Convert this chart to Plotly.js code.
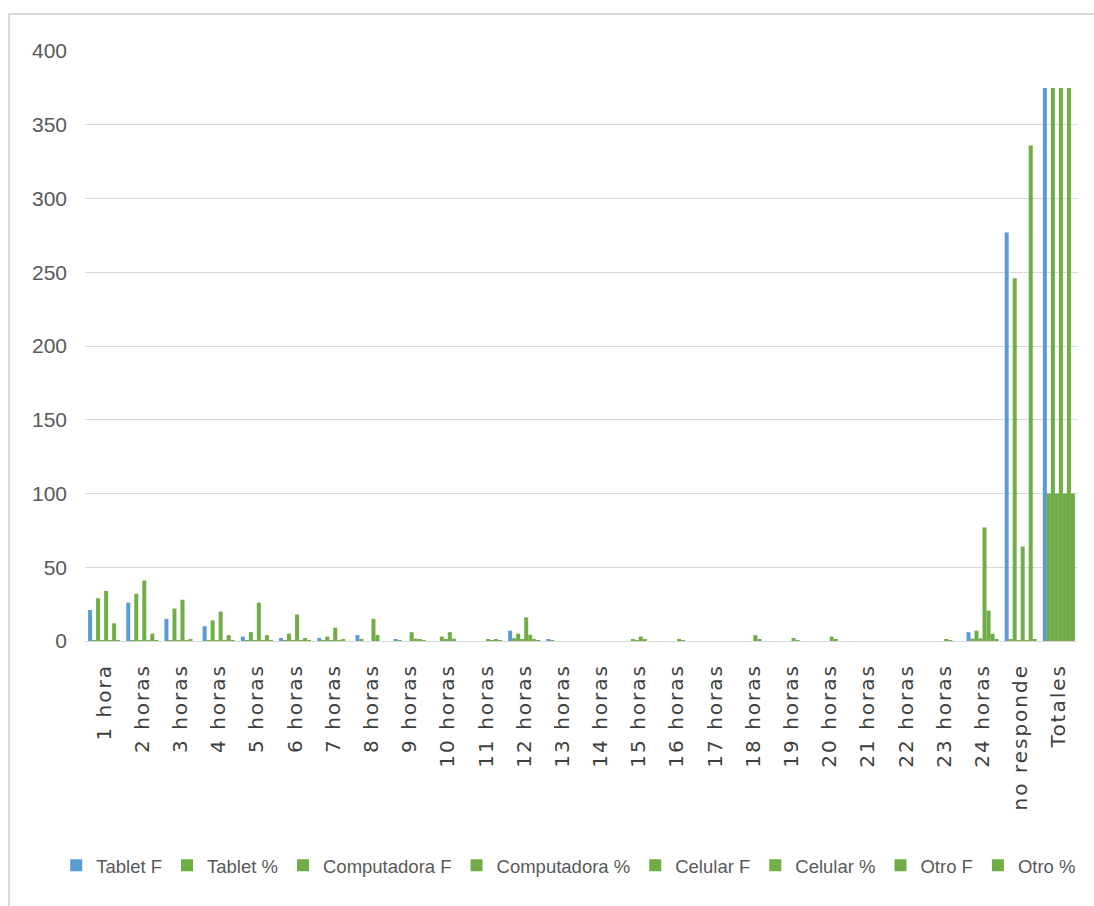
<!DOCTYPE html>
<html>
<head>
<meta charset="utf-8">
<script src="https://cdn.plot.ly/plotly-3.0.1.min.js"></script>
<style>
  html, body { margin: 0; padding: 0; background: #ffffff; }
  #chart { width: 1094px; height: 906px; }
  .xtick text { letter-spacing: 2px; }
</style>
</head>
<body>
<div id="chart"></div>
<script>
var categories = ["1 hora","2 horas","3 horas","4 horas","5 horas","6 horas","7 horas","8 horas","9 horas","10 horas",
  "11 horas","12 horas","13 horas","14 horas","15 horas","16 horas","17 horas","18 horas","19 horas","20 horas",
  "21 horas","22 horas","23 horas","24 horas","no responde","Totales"];

var seriesNames = ["Tablet F","Tablet %","Computadora F","Computadora %","Celular F","Celular %","Otro F","Otro %"];

var tabletF   = [21,26,15,10,3,2,2,4,1,0,0,7,1,0,0,0,0,0,0,0,0,0,0,6,277,375];
var tabletPct = [0.06,0.07,0.04,0.03,0.01,0.01,0.01,1.07,0.27,0,0,1.87,0.27,0,0,0,0,0,0,0,0,0,0,1.6,0.74,100];
var compF     = [29,32,22,14,6,5,3,0,0,3,0,5,0,0,1,0,0,0,0,0,0,0,0,7,246,375];
var compPct   = [0.08,0.09,0.06,0.04,0.02,0.01,0.01,0,0,0.8,0,1.33,0,0,0.27,0,0,0,0,0,0,0,0,1.87,0.66,100];
var celF      = [34,41,28,20,26,18,9,15,6,6,1,16,0,0,3,1,0,4,2,3,0,0,1,77,64,375];
var celPct    = [0.09,0.11,0.07,0.05,0.07,0.05,0.02,4.0,1.6,1.6,0.27,4.27,0,0,0.8,0.27,0,1.07,0.53,0.8,0,0,0.27,20.53,0.17,100];
var otroF     = [12,5,1,4,4,2,1,0,1,0,1,1,0,0,0,0,0,0,0,0,0,0,0,5,336,375];
var otroPct   = [0.03,0.01,0.003,0.01,0.01,0.01,0.003,0,0.27,0,0.27,0.27,0,0,0,0,0,0,0,0,0,0,0,1.33,0.9,100];

var seriesValues = [tabletF, tabletPct, compF, compPct, celF, celPct, otroF, otroPct];
var blue = "#5B9BD5", green = "#70AD47";

var traces = seriesNames.map(function(name, i) {
  return {
    type: "bar",
    name: name,
    x: categories,
    y: seriesValues[i],
    marker: { color: i === 0 ? blue : green },
    hoverinfo: "x+y+name"
  };
});

var sans = "Liberation Sans, Arial, sans-serif";

var layout = {
  width: 1094,
  height: 906,
  margin: { l: 85, r: 16, t: 51, b: 265, pad: 0 },
  paper_bgcolor: "#ffffff",
  plot_bgcolor: "#ffffff",
  barmode: "group",
  bargap: 0.16,
  bargroupgap: 0,
  showlegend: true,
  legend: {
    orientation: "h",
    x: -0.029, xanchor: "left",
    y: -0.381, yanchor: "middle",
    font: { family: sans, size: 18.5, color: "#595959" },
    traceorder: "normal",
    itemwidth: 30,
    itemclick: false
  },
  xaxis: {
    type: "category",
    tickangle: -90,
    tickfont: { family: "DejaVu Sans, sans-serif", size: 20, color: "#404040" },
    showline: true,
    linecolor: "#d9d9d9",
    linewidth: 1,
    ticks: "",
    showgrid: false,
    ticklabelstandoff: 14,
    automargin: false,
    fixedrange: true
  },
  yaxis: {
    range: [0, 400],
    dtick: 50,
    showgrid: true,
    gridcolor: "#d9d9d9",
    gridwidth: 1,
    zeroline: false,
    showline: false,
    ticks: "",
    tickfont: { family: sans, size: 21, color: "#595959" },
    ticklabelstandoff: 17,
    automargin: false,
    fixedrange: true
  },
  shapes: [{
    type: "rect",
    xref: "paper", yref: "paper",
    x0: -0.0765, x1: 1.05, y0: -0.55, y1: 1.0627,
    line: { color: "#d9d9d9", width: 2 },
    fillcolor: "rgba(0,0,0,0)",
    layer: "below"
  }]
};

Plotly.newPlot("chart", traces, layout, { displayModeBar: false, responsive: false });
</script>
</body>
</html>
